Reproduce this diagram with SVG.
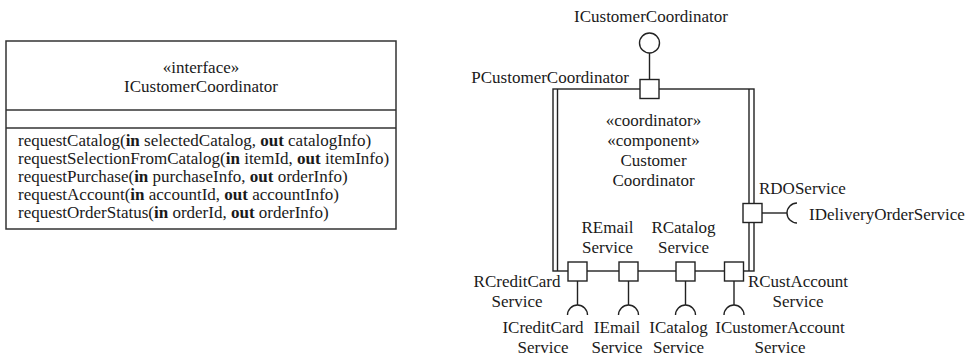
<svg xmlns="http://www.w3.org/2000/svg" width="968" height="356" viewBox="0 0 968 356">
<style>
.ln{stroke:#222;stroke-width:1.4;fill:none}
.box{fill:#fff;stroke:#333;stroke-width:1.5}
.port{fill:#fff;stroke:#222;stroke-width:1.4}
text{font-family:"Liberation Serif","Times New Roman",Tinos,"DejaVu Serif",serif;font-size:17px;fill:#1a1a1a}
.c{text-anchor:middle}
.e{text-anchor:end}
.b{font-weight:bold}
</style>
<rect width="968" height="356" fill="#fff"/>

<g id="interface-ICustomerCoordinator">
  <rect class="box" x="6" y="41" width="390" height="188"/>
  <line class="box" x1="6" y1="110" x2="396" y2="110"/>
  <line class="box" x1="6" y1="128" x2="396" y2="128"/>
  <text class="c" x="201" y="73">«interface»</text>
  <text class="c" x="201" y="92">ICustomerCoordinator</text>
  <text x="18" y="146">requestCatalog(<tspan class="b">in</tspan> selectedCatalog, <tspan class="b">out</tspan> catalogInfo)</text>
  <text x="18" y="164">requestSelectionFromCatalog(<tspan class="b">in</tspan> itemId, <tspan class="b">out</tspan> itemInfo)</text>
  <text x="18" y="182">requestPurchase(<tspan class="b">in</tspan> purchaseInfo, <tspan class="b">out</tspan> orderInfo)</text>
  <text x="18" y="200">requestAccount(<tspan class="b">in</tspan> accountId, <tspan class="b">out</tspan> accountInfo)</text>
  <text x="18" y="218">requestOrderStatus(<tspan class="b">in</tspan> orderId, <tspan class="b">out</tspan> orderInfo)</text>
</g>

<g id="component-CustomerCoordinator">
  <rect class="ln" x="553" y="89" width="201" height="182"/>
  <line class="ln" x1="557.5" y1="89" x2="557.5" y2="271"/>
  <line class="ln" x1="749" y1="89" x2="749" y2="271"/>
  <text class="c" x="653.5" y="126">«coordinator»</text>
  <text class="c" x="653.5" y="146">«component»</text>
  <text class="c" x="653.5" y="166">Customer</text>
  <text class="c" x="653.5" y="186">Coordinator</text>
</g>

<g id="connectors">
  <line class="ln" x1="649.5" y1="53" x2="649.5" y2="79.5"/>
  <line class="ln" x1="762" y1="213" x2="787" y2="213"/>
  <line class="ln" x1="577.5" y1="281" x2="577.5" y2="305"/>
  <line class="ln" x1="628.5" y1="281" x2="628.5" y2="305"/>
  <line class="ln" x1="685.5" y1="281" x2="685.5" y2="305"/>
  <line class="ln" x1="734" y1="281" x2="734" y2="305"/>
</g>

<g id="port-PCustomerCoordinator">
  <rect class="port" x="640" y="79.5" width="19" height="19"/>
  <text class="e" x="629" y="83">PCustomerCoordinator</text>
</g>
<g id="interface-ball-ICustomerCoordinator">
  <circle class="ln" cx="649.5" cy="43" r="10"/>
  <text class="c" x="651" y="22">ICustomerCoordinator</text>
</g>

<g id="port-RDOService">
  <rect class="port" x="743" y="203.5" width="19" height="19"/>
  <text x="759" y="194">RDOService</text>
</g>
<g id="socket-IDeliveryOrderService">
  <path class="ln" d="M797,203 A10,10 0 0 0 797,223"/>
  <text x="809" y="220">IDeliveryOrderService</text>
</g>

<g id="port-RCreditCardService">
  <rect class="port" x="568" y="262" width="19" height="19"/>
  <text class="c" x="517" y="287">RCreditCard</text>
  <text class="c" x="517" y="307">Service</text>
</g>
<g id="port-REmailService">
  <rect class="port" x="619" y="262" width="19" height="19"/>
  <text class="c" x="607.5" y="233">REmail</text>
  <text class="c" x="607.5" y="253">Service</text>
</g>
<g id="port-RCatalogService">
  <rect class="port" x="676" y="262" width="19" height="19"/>
  <text class="c" x="683.5" y="233">RCatalog</text>
  <text class="c" x="683.5" y="253">Service</text>
</g>
<g id="port-RCustAccountService">
  <rect class="port" x="724.5" y="262" width="19" height="19"/>
  <text class="c" x="798" y="287">RCustAccount</text>
  <text class="c" x="798" y="307">Service</text>
</g>

<g id="socket-ICreditCardService">
  <path class="ln" d="M567.5,315 A10,10 0 0 1 587.5,315"/>
  <text class="c" x="543" y="333">ICreditCard</text>
  <text class="c" x="543" y="353">Service</text>
</g>
<g id="socket-IEmailService">
  <path class="ln" d="M618.5,315 A10,10 0 0 1 638.5,315"/>
  <text class="c" x="617" y="333">IEmail</text>
  <text class="c" x="617" y="353">Service</text>
</g>
<g id="socket-ICatalogService">
  <path class="ln" d="M675.5,315 A10,10 0 0 1 695.5,315"/>
  <text class="c" x="678.5" y="333">ICatalog</text>
  <text class="c" x="678.5" y="353">Service</text>
</g>
<g id="socket-ICustomerAccountService">
  <path class="ln" d="M724,315 A10,10 0 0 1 744,315"/>
  <text class="c" x="780" y="333">ICustomerAccount</text>
  <text class="c" x="780" y="353">Service</text>
</g>
</svg>
